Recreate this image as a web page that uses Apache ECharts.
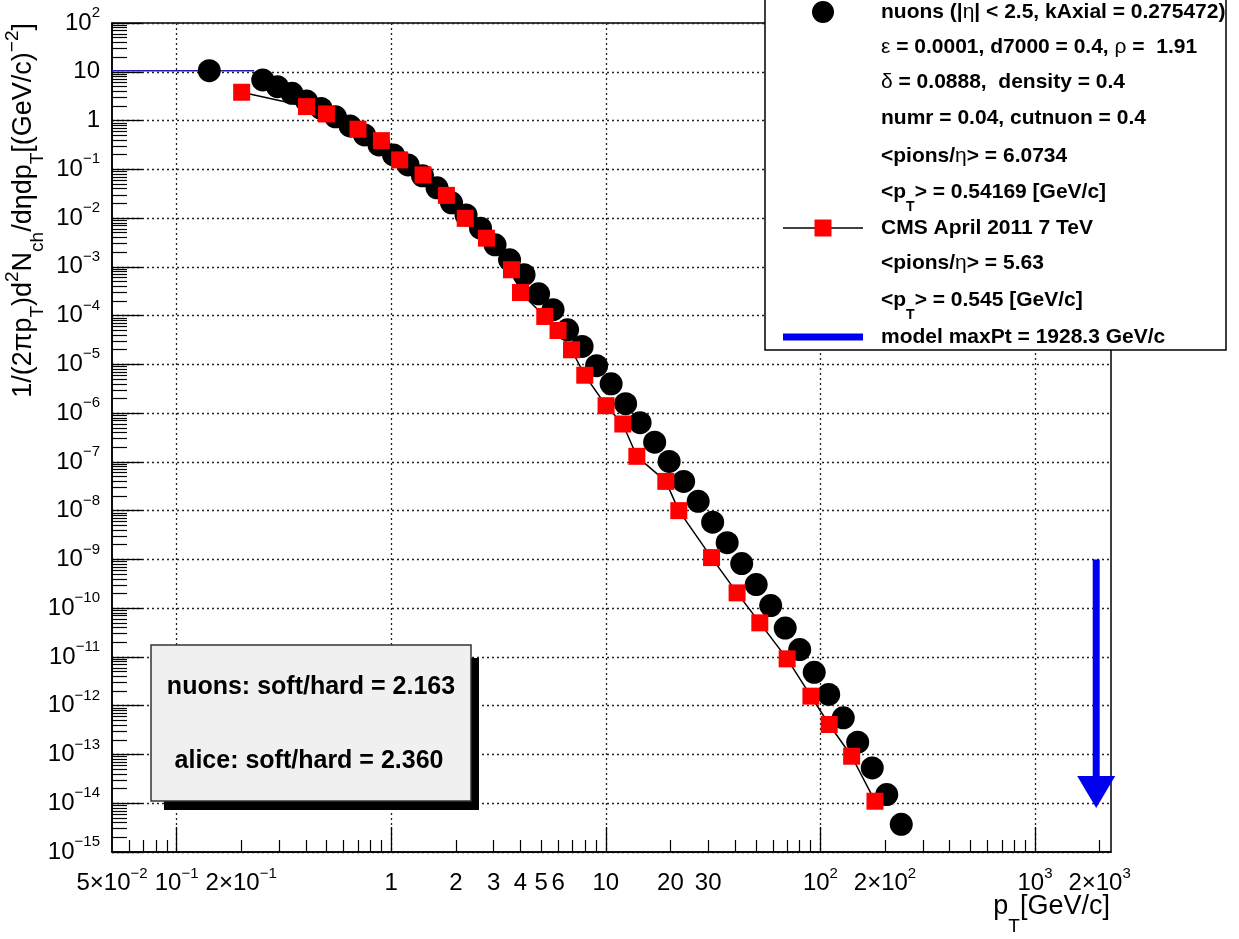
<!DOCTYPE html>
<html>
<head>
<meta charset="utf-8">
<script src="https://cdn.jsdelivr.net/npm/echarts@6/dist/echarts.min.js"></script>
<style>
  html, body { margin: 0; padding: 0; background: #fff; }
  #chart { width: 1239px; height: 939px; }
</style>
</head>
<body>
<div id="chart"></div>
<script>
// nuons model: charged-particle pT spectrum
const nuonsPt = [0.142, 0.252, 0.295, 0.345, 0.403, 0.471, 0.550, 0.643, 0.751, 0.877,
  1.025, 1.198, 1.399, 1.635, 1.910, 2.232, 2.608, 3.047, 3.560, 4.160,
  4.861, 5.679, 6.636, 7.754, 9.060, 10.59, 12.37, 14.45, 16.89, 19.73,
  23.05, 26.94, 31.47, 36.78, 42.97, 50.21, 58.67, 68.55, 80.09, 93.57,
  109.3, 127.8, 149.2, 174.4, 203.8, 238.1];
const nuonsYield = [10.5, 6.8, 4.95, 3.62, 2.52, 1.77, 1.19, 0.775, 0.507, 0.316,
  0.197, 0.123, 0.0733, 0.0416, 0.0205, 0.0116, 0.0062, 0.00282, 0.00139, 6.9e-4,
  2.8e-4, 1.32e-4, 5.1e-5, 2.33e-5, 9.4e-6, 4.0e-6, 1.56e-6, 6.35e-7, 2.53e-7, 1.02e-7,
  3.98e-8, 1.55e-8, 5.8e-9, 2.2e-9, 8.2e-10, 3.05e-10, 1.13e-10, 3.9e-11, 1.42e-11, 4.85e-12,
  1.7e-12, 5.65e-13, 1.79e-13, 5.3e-14, 1.51e-14, 3.7e-15];

// CMS April 2011, 7 TeV
const cmsPt = [0.201, 0.403, 0.499, 0.700, 0.900, 1.095, 1.407, 1.808, 2.213, 2.779,
  3.634, 4.003, 5.195, 5.99, 6.92, 7.98, 10.03, 12.0, 13.95, 19.04,
  21.89, 31.1, 40.9, 52.2, 70.0, 90.3, 109.9, 139.8, 179.6];
const cmsYield = [3.80, 1.93, 1.365, 0.664, 0.387, 0.156, 0.0767, 0.0292, 0.00986, 0.00387,
  8.7e-4, 2.97e-4, 9.6e-5, 4.95e-5, 1.99e-5, 5.98e-6, 1.42e-6, 5.98e-7, 1.30e-7, 3.98e-8,
  1.0e-8, 1.09e-9, 2.06e-10, 5.0e-11, 9.14e-12, 1.57e-12, 4.12e-13, 9.2e-14, 1.10e-14];

// low-pT model level
const modelPt = [0.05, 0.23];
const modelYield = [10.5, 10.5];

// model maxPt marker (arrow)
const maxPtX = [1928.3, 1928.3];
const maxPtY = [1e-9, 1.7e-14];

// axis ranges and tick labels
const xRange = [0.05, 2260];
const yRange = [1e-15, 100];
const xLabelValues = [0.05, 0.1, 0.2, 1, 2, 3, 4, 5, 6, 10, 20, 30, 100, 200, 1000, 2000];
const xLabelTexts = ['5×10^−2', '10^−1', '2×10^−1', '1', '2', '3', '4', '5', '6', '10', '20', '30',
  '10^2', '2×10^2', '10^3', '2×10^3'];
const yLabelValues = [1e2, 1e1, 1, 1e-1, 1e-2, 1e-3, 1e-4, 1e-5, 1e-6, 1e-7, 1e-8, 1e-9,
  1e-10, 1e-11, 1e-12, 1e-13, 1e-14, 1e-15];
const yLabelTexts = ['10^2', '10', '1', '10^−1', '10^−2', '10^−3', '10^−4', '10^−5', '10^−6',
  '10^−7', '10^−8', '10^−9', '10^−10', '10^−11', '10^−12', '10^−13', '10^−14', '10^−15'];

const lg = Math.log10;
const FONT = '"Liberation Sans", Arial, Helvetica, sans-serif';

// log-decade ticks (major) and 2..9 sub-ticks (minor), in log10 space
const xMin = lg(xRange[0]), xMax = lg(xRange[1]);
const yMin = lg(yRange[0]), yMax = lg(yRange[1]);
function decades(lo, hi) {
  const out = [];
  for (let d = Math.ceil(lo - 1e-9); d <= Math.floor(hi + 1e-9); d++) out.push(d);
  return out;
}
function subTicks(lo, hi) {
  const out = [];
  for (let d = Math.floor(lo) - 1; d <= Math.ceil(hi); d++) {
    for (let m = 2; m <= 9; m++) {
      const v = d + lg(m);
      if (v > lo + 1e-6 && v < hi - 1e-6) out.push(v);
    }
  }
  return out;
}

function powerLabel(txt) {
  const p = txt.split('^');
  return p.length > 1 ? '{b|' + p[0] + '}{s|' + p[1] + '}' : '{b|' + txt + '}';
}
function labelFor(values, texts) {
  return function (v) {
    const i = values.findIndex(t => Math.abs(lg(t) - v) < 1e-6);
    return i < 0 ? '' : powerLabel(texts[i]);
  };
}
const tickRich = {
  b: { fontFamily: FONT, fontSize: 24, lineHeight: 35, color: '#000' },
  s: { fontFamily: FONT, fontSize: 15, padding: [0, 0, 20, 0], color: '#000' }
};

const toXY = (xs, ys) => xs.map((x, i) => [lg(x), lg(ys[i])]);

const gridLine = { show: true, lineStyle: { color: '#222', width: 1.3, type: [2, 3] } };

const chart = echarts.init(document.getElementById('chart'), null, { renderer: 'canvas' });

const legendLines = [
  '{b|nuons (|}{g|η}{b|| < 2.5, kAxial = 0.275472)}',
  '{g|ε}{b| = 0.0001, d7000 = 0.4, }{g|ρ}{b| =  1.91}',
  '{g|δ}{b| = 0.0888,  density = 0.4}',
  '{b|numr = 0.04, cutnuon = 0.4}',
  '{b|<pions/}{g|η}{b|> = 6.0734}',
  '{b|<p}{t|T}{b|> = 0.54169 [GeV/c]}',
  '{b|CMS April 2011 7 TeV}',
  '{b|<pions/}{g|η}{b|> = 5.63}',
  '{b|<p}{t|T}{b|> = 0.545 [GeV/c]}',
  '{b|model maxPt = 1928.3 GeV/c}'
];
const legendRowY = [12, 47, 82, 118, 156, 192, 228, 263, 300, 337];
const legendRich = {
  b: { fontFamily: FONT, fontSize: 21, fontWeight: 'bold', lineHeight: 24, color: '#000' },
  g: { fontFamily: FONT, fontSize: 21, fontWeight: 'normal', lineHeight: 24, color: '#000' },
  t: { fontFamily: FONT, fontSize: 14, fontWeight: 'bold', padding: [30, 0, 0, 0], color: '#000' }
};

const titleRich = {
  a: { fontFamily: FONT, fontSize: 27, lineHeight: 30, color: '#000' },
  sub: { fontFamily: FONT, fontSize: 19, padding: [28, 0, 0, 0], color: '#000' },
  sup: { fontFamily: FONT, fontSize: 19, padding: [0, 0, 22, 0], color: '#000' },
  subx: { fontFamily: FONT, fontSize: 19, padding: [40, 0, 0, 0], color: '#000' }
};

const graphics = [
  // y-axis title
  {
    type: 'text', x: 24, y: 23, rotation: Math.PI / 2, z: 100,
    style: {
      text: '{a|1/(2πp}{sub|T}{a|)d}{sup|2}{a|N}{sub|ch}{a|/dηdp}{sub|T}{a|[(GeV/c)}{sup|−2}{a|]}',
      rich: titleRich, align: 'right', verticalAlign: 'middle'
    }
  },
  // x-axis title
  {
    type: 'text', x: 1110, y: 907, z: 100,
    style: {
      text: '{a|p}{subx|T}{a|[GeV/c]}',
      rich: titleRich, align: 'right', verticalAlign: 'middle'
    }
  },
  // soft/hard box with shadow
  { type: 'rect', z: 100, shape: { x: 164, y: 658, width: 315, height: 152 }, style: { fill: '#000' } },
  {
    type: 'rect', z: 101, shape: { x: 151, y: 645, width: 320, height: 156 },
    style: { fill: '#f0f0f0', stroke: '#333', lineWidth: 1.5 }
  },
  {
    type: 'text', z: 102, x: 311, y: 687,
    style: { text: 'nuons: soft/hard = 2.163', font: 'bold 25px ' + FONT, fill: '#000', align: 'center', verticalAlign: 'middle' }
  },
  {
    type: 'text', z: 102, x: 309, y: 761,
    style: { text: 'alice: soft/hard = 2.360', font: 'bold 25px ' + FONT, fill: '#000', align: 'center', verticalAlign: 'middle' }
  },
  // legend box
  {
    type: 'rect', z: 100, shape: { x: 765, y: -10, width: 461, height: 360 },
    style: { fill: '#fff', stroke: '#000', lineWidth: 1.5 }
  },
  { type: 'circle', z: 101, shape: { cx: 823, cy: legendRowY[0], r: 11 }, style: { fill: '#000' } },
  { type: 'line', z: 101, shape: { x1: 783, y1: legendRowY[6], x2: 863, y2: legendRowY[6] }, style: { stroke: '#000', lineWidth: 1.5 } },
  { type: 'rect', z: 102, shape: { x: 814.5, y: legendRowY[6] - 8.5, width: 17, height: 17 }, style: { fill: '#ff0000' } },
  { type: 'line', z: 101, shape: { x1: 783, y1: legendRowY[9], x2: 863, y2: legendRowY[9] }, style: { stroke: '#0000ee', lineWidth: 7 } }
].concat(legendLines.map((t, i) => ({
  type: 'text', z: 102, x: 881, y: legendRowY[i],
  style: { text: t, rich: legendRich, align: 'left', verticalAlign: 'middle' }
})));

chart.setOption({
  animation: false,
  backgroundColor: '#fff',
  grid: {
    left: 112, top: 23, right: 128, bottom: 87,
    show: true, borderColor: '#000', borderWidth: 1.5, backgroundColor: '#fff'
  },
  xAxis: [
    {
      type: 'value', position: 'bottom', min: xMin, max: xMax,
      axisLine: { show: true, onZero: false, lineStyle: { color: '#000', width: 1.5 } },
      axisTick: { show: true, inside: true, length: 25, customValues: decades(xMin, xMax), lineStyle: { color: '#000', width: 1.3 } },
      axisLabel: { customValues: xLabelValues.map(lg), formatter: labelFor(xLabelValues, xLabelTexts), margin: 14, rich: tickRich },
      splitLine: gridLine
    },
    {
      type: 'value', position: 'bottom', min: xMin, max: xMax,
      axisLine: { show: false, onZero: false },
      axisTick: { show: true, inside: true, length: 12, customValues: subTicks(xMin, xMax), lineStyle: { color: '#000', width: 1.2 } },
      axisLabel: { show: false },
      splitLine: { show: false }
    }
  ],
  yAxis: [
    {
      type: 'value', position: 'left', min: yMin, max: yMax,
      axisLine: { show: true, onZero: false, lineStyle: { color: '#000', width: 1.5 } },
      axisTick: { show: true, inside: true, length: 30, customValues: decades(yMin, yMax), lineStyle: { color: '#000', width: 1.3 } },
      axisLabel: { customValues: yLabelValues.map(lg), formatter: labelFor(yLabelValues, yLabelTexts), margin: 12, rich: tickRich },
      splitLine: gridLine
    },
    {
      type: 'value', position: 'left', min: yMin, max: yMax,
      axisLine: { show: false, onZero: false },
      axisTick: { show: true, inside: true, length: 15, customValues: subTicks(yMin, yMax), lineStyle: { color: '#000', width: 1.2 } },
      axisLabel: { show: false },
      splitLine: { show: false }
    }
  ],
  series: [
    {
      name: 'model level', type: 'line', xAxisIndex: 0, yAxisIndex: 0,
      data: toXY(modelPt, modelYield), showSymbol: false, symbol: 'none',
      lineStyle: { color: '#1f1fb0', width: 1.5 }, z: 2
    },
    {
      name: 'nuons', type: 'scatter', xAxisIndex: 0, yAxisIndex: 0,
      data: toXY(nuonsPt, nuonsYield), symbol: 'circle', symbolSize: 23,
      itemStyle: { color: '#000', opacity: 1 }, z: 3
    },
    {
      name: 'CMS April 2011 7 TeV', type: 'line', xAxisIndex: 0, yAxisIndex: 0,
      data: toXY(cmsPt, cmsYield), symbol: 'rect', symbolSize: 17, showSymbol: true,
      lineStyle: { color: '#000', width: 1.5 }, itemStyle: { color: '#ff0000', borderWidth: 0 }, z: 4
    },
    {
      name: 'model maxPt', type: 'line', xAxisIndex: 0, yAxisIndex: 0,
      data: toXY(maxPtX, maxPtY).map((p, i) => i === 0
        ? { value: p, symbol: 'none' }
        : { value: p, symbol: 'triangle', symbolSize: [38, 32], symbolRotate: 180 }),
      lineStyle: { color: '#0000ee', width: 7 }, itemStyle: { color: '#0000ee' }, z: 5
    }
  ],
  graphic: { elements: graphics }
});
</script>
</body>
</html>
